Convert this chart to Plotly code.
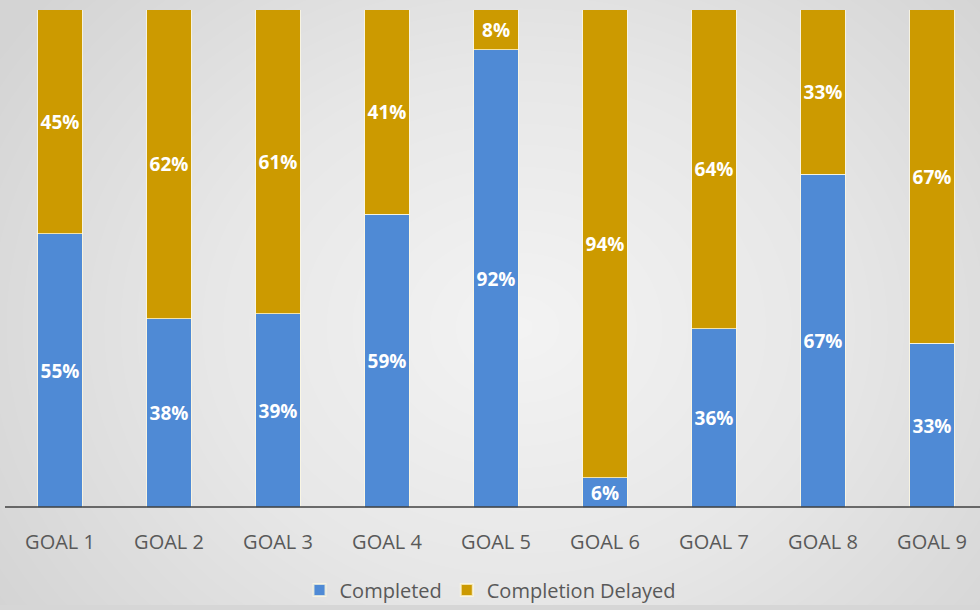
import numpy as np
import plotly.graph_objects as go

categories = ["GOAL 1", "GOAL 2", "GOAL 3", "GOAL 4", "GOAL 5", "GOAL 6", "GOAL 7", "GOAL 8", "GOAL 9"]
completed = [55, 38, 39, 59, 92, 6, 36, 67, 33]
delayed = [45, 62, 61, 41, 8, 94, 64, 33, 67]
series_names = ["Completed", "Completion Delayed"]

BLUE = "#4F8AD5"
GOLD = "#CC9A00"
W, H = 980, 610

# radial gray background (style only)
gx = np.linspace(-20, W + 20, 103)
gy = np.linspace(-20, H + 20, 67)
XX, YY = np.meshgrid(gx, gy)
d = np.sqrt(((XX - 520) / 620) ** 2 + ((YY - 330) / 520) ** 2)
d = np.clip(d, 0, 1)

fig = go.Figure()
fig.add_trace(go.Heatmap(
    x=gx, y=gy, z=d, zmin=0, zmax=1, zsmooth="best",
    colorscale=[[0, "#f3f3f3"], [0.5, "#e7e7e7"], [1, "#d4d4d4"]],
    showscale=False, hoverinfo="skip", xaxis="x", yaxis="y",
))

for name, vals, col in [(series_names[0], completed, BLUE), (series_names[1], delayed, GOLD)]:
    fig.add_trace(go.Bar(
        x=categories, y=vals, name=name,
        marker=dict(color=col, line=dict(color="rgba(255,250,225,0.75)", width=1)),
        text=[f"{v}%" for v in vals], textposition="inside", textangle=0,
        insidetextanchor="middle", constraintext="none",
        textfont=dict(family="Open Sans", size=19, color="white", weight="bold"),
        width=0.41, xaxis="x2", yaxis="y2",
    ))

y0 = 1 - 512 / H
y1 = 1 - 10 / H

fig.update_layout(
    width=W, height=H, autosize=False,
    margin=dict(l=0, r=0, t=0, b=0),
    paper_bgcolor="#d6d6d6", plot_bgcolor="rgba(0,0,0,0)",
    barmode="stack",
    showlegend=True,
    xaxis=dict(domain=[0, 1], range=[0, W], visible=False, fixedrange=True),
    yaxis=dict(domain=[0, 1], range=[H, 0], visible=False, fixedrange=True),
    xaxis2=dict(domain=[0, 1], anchor="y2", range=[-60 / 109, 920 / 109],
                showline=False, showgrid=False, zeroline=False,
                ticks="", ticklabelstandoff=20,
                tickfont=dict(family="Open Sans", size=20, color="#595959")),
    yaxis2=dict(domain=[y0, y1], anchor="x2", range=[0, 100], visible=False,
                showgrid=False, zeroline=False),
    legend=dict(orientation="h", x=0.5, xanchor="center", y=1 - 595 / H, yanchor="middle",
                bgcolor="rgba(0,0,0,0)", font=dict(family="Open Sans", size=20, color="#595959"),
                itemsizing="constant", traceorder="normal", itemwidth=30),
    shapes=[
        dict(type="rect", xref="paper", yref="paper", x0=282 / W, x1=710 / W,
             y0=0, y1=1 - 574 / H, fillcolor="#e5e5e5", line=dict(width=0), layer="below"),
        dict(type="line", xref="paper", yref="y2", x0=5 / W, x1=1, y0=0, y1=0,
             line=dict(color="#404040", width=3), layer="above"),
    ],
)

fig.write_html("out.html",
               config={"displayModeBar": False, "responsive": False},
               post_script="document.body.style.margin='0';document.body.style.overflow='hidden';document.body.style.background='#d6d6d6';")
